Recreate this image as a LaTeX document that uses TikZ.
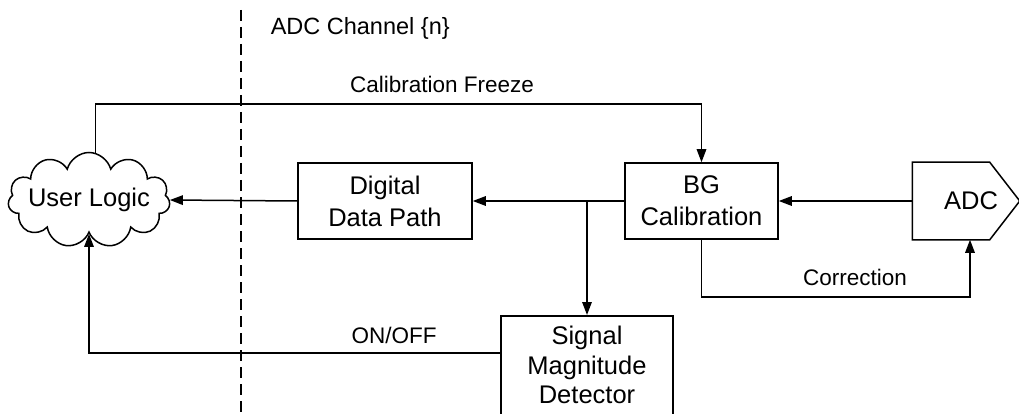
\documentclass[tikz,border=0pt]{standalone}
\usepackage{fontspec}
\setmainfont{Liberation Sans}
\usetikzlibrary{arrows.meta,shapes.symbols,calc}
\begin{document}
\begin{tikzpicture}[x=1pt,y=-1pt,
  line width=1.5pt,
  arr/.style={-{Triangle[length=13pt,width=9.5pt]}},
  blk/.style={draw,align=center,font=\fontsize{25.5}{32}\selectfont,inner sep=0pt},
  lbl/.style={font=\fontsize{22.5}{27}\selectfont,anchor=base,inner sep=0pt},
  ttl/.style={font=\fontsize{23.5}{28}\selectfont,anchor=base west,inner sep=0pt}]
\useasboundingbox (0,0) rectangle (1019,414);
\clip (0,0) rectangle (1019,414);
% dashed separator
\coordinate (dtop) at (241,10);
\coordinate (dbot) at (241,420);
\draw[line width=1.2pt,dash pattern=on 11pt off 6pt] (dtop) -- (dbot);
\node[ttl] (title) at (270,35) {ADC Channel \{n\}};
% blocks
\node[draw,cloud,cloud puffs=11,aspect=1.7,minimum width=162pt,minimum height=95pt,inner sep=0pt] (cloud) at (89,200) {};
\node[font=\fontsize{25.5}{32}\selectfont,inner sep=0pt] (cloudt) at (89,200) {User Logic};
\node[blk,minimum width=174pt,minimum height=76pt] (ddp) at (385,201) {Digital\\Data Path};
\node[blk,minimum width=153pt,minimum height=76pt] (bg) at (701.5,201) {BG\\Calibration};
\node[blk,draw=none,minimum width=106pt,minimum height=76pt] (adc) at (966,201) {\hspace*{10pt}ADC};
\draw (adc.north west) -- ($(adc.north east)+(-30,0)$) -- (adc.east) -- ($(adc.south east)+(-30,0)$) -- (adc.south west) -- cycle;
\node[blk,minimum width=172pt,minimum height=150pt,anchor=north] (smd) at (587,315) {};
\node[align=center,font=\fontsize{25.5}{29.5}\selectfont,inner sep=0pt] (smdt) at (587,365) {Signal\\Magnitude\\Detector};
% connectors
\draw[arr] (adc.west) -- (bg.east);
\draw[arr] (bg.west) -- (ddp.east);
\draw[arr] (ddp.west) -- (cloud.east);
\draw[arr] (bg.west -| smd.north) -- (smd.north);
\draw[arr] (cloud.82) |- ($(bg.north)+(0,-58)$) -- (bg.north);
\draw[arr] (bg.south) -- ++(0,57) -| ($(adc.south)+(4,0)$);
\draw[arr] ($(smd.north west)+(0,38)$) -| (cloud.south);
% labels
\node[lbl] (lcf) at (442,93) {Calibration Freeze};
\node[lbl] (lcor) at (855,285) {Correction};
\node[lbl] (lon) at (394,343) {ON/OFF};
\end{tikzpicture}
\end{document}
